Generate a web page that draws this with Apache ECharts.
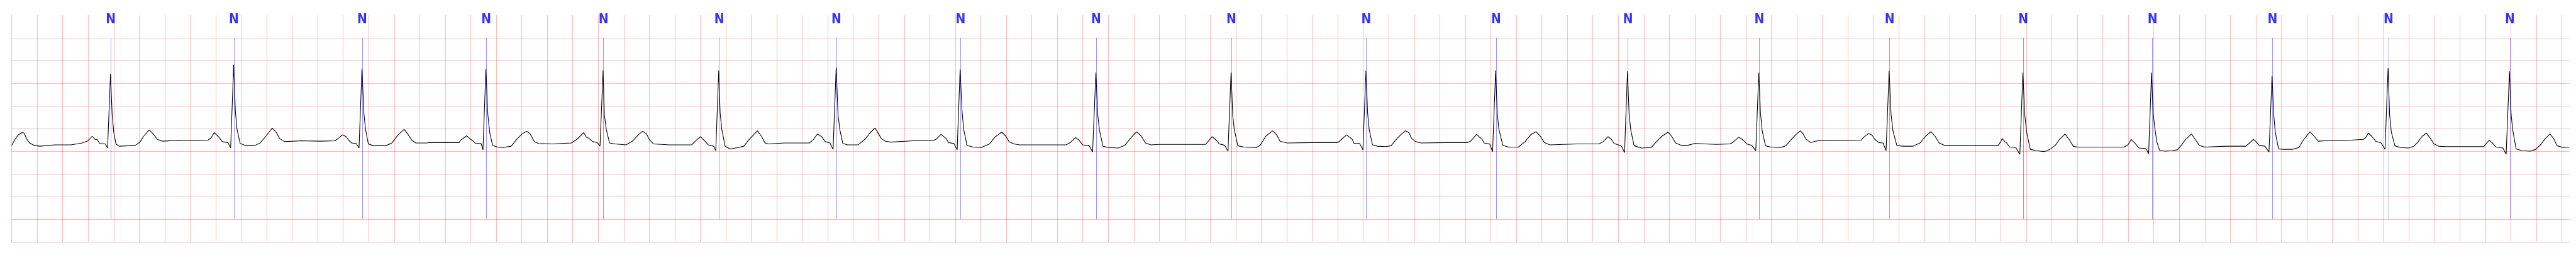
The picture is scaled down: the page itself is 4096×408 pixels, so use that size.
<!DOCTYPE html>
<html><head><meta charset="utf-8">
<script src="https://cdn.jsdelivr.net/npm/echarts@6/dist/echarts.min.js"></script>
<style>html,body{margin:0;padding:0;background:#fff}#c{width:4096px;height:408px}</style>
</head><body><div id="c"></div>
<script>
// ECG trace, [time (s), amplitude (mV)]
const ecgPart1 = [[0.000,0.13],[0.026,0.26],[0.048,0.35],[0.080,0.41],[0.097,0.40],[0.116,0.28],[0.140,0.18],[0.176,0.13],[0.219,0.11],[0.337,0.14],[0.466,0.14],[0.552,0.18],[0.599,0.23],[0.631,0.33],[0.653,0.26],[0.670,0.26],[0.689,0.17],[0.734,0.16],[0.752,0.07],[0.775,1.70],[0.788,0.80],[0.801,0.41],[0.818,0.16],[0.842,0.11],[0.917,0.12],[0.970,0.13],[1.003,0.19],[1.035,0.33],[1.078,0.47],[1.110,0.38],[1.142,0.26],[1.185,0.22],[1.303,0.24],[1.453,0.23],[1.539,0.24],[1.565,0.30],[1.588,0.41],[1.610,0.35],[1.625,0.31],[1.651,0.21],[1.696,0.19],[1.717,0.07],[1.741,1.90],[1.754,0.89],[1.767,0.48],[1.792,0.17],[1.829,0.13],[1.904,0.12],[1.947,0.18],[1.994,0.33],[2.043,0.51],[2.076,0.41],[2.101,0.28],[2.140,0.21],[2.269,0.23],[2.419,0.22],[2.537,0.23],[2.569,0.30],[2.595,0.36],[2.623,0.32],[2.644,0.24],[2.666,0.18],[2.702,0.17],[2.724,0.07],[2.747,1.81],[2.762,0.84],[2.775,0.48],[2.797,0.16],[2.837,0.12],[2.934,0.12],[2.981,0.18],[3.030,0.36],[3.078,0.48],[3.106,0.38],[3.138,0.24],[3.170,0.18],[3.256,0.18]];
const ecgPart2 = [[3.273,0.19],[3.380,0.19],[3.509,0.19],[3.520,0.24],[3.569,0.34],[3.595,0.27],[3.616,0.23],[3.638,0.17],[3.681,0.17],[3.696,0.03],[3.719,1.81],[3.734,0.81],[3.749,0.41],[3.771,0.13],[3.809,0.09],[3.852,0.08],[3.917,0.11],[3.960,0.26],[4.002,0.38],[4.039,0.44],[4.067,0.38],[4.099,0.21],[4.131,0.17],[4.239,0.16],[4.389,0.18],[4.432,0.26],[4.487,0.41],[4.507,0.31],[4.528,0.28],[4.556,0.21],[4.593,0.19],[4.614,0.11],[4.638,1.78],[4.648,0.81],[4.663,0.48],[4.689,0.18],[4.732,0.16],[4.818,0.14],[4.872,0.23],[4.914,0.36],[4.947,0.44],[4.979,0.38],[5.000,0.26],[5.033,0.16],[5.161,0.14],[5.333,0.14],[5.365,0.23],[5.402,0.32],[5.430,0.24],[5.462,0.14],[5.505,0.11],[5.522,0.01],[5.545,1.78],[5.556,0.84],[5.569,0.48],[5.595,0.11],[5.633,0.05],[5.698,0.08],[5.741,0.11],[5.784,0.26],[5.848,0.45],[5.880,0.33],[5.908,0.18],[5.934,0.16],[6.063,0.18],[6.256,0.18],[6.288,0.26],[6.320,0.38],[6.352,0.32],[6.380,0.21],[6.417,0.18],[6.442,0.04],[6.466,1.84],[6.481,0.79],[6.496,0.46],[6.518,0.17],[6.556,0.14],[6.638,0.14]];
const ecgPart3 = [[6.691,0.26],[6.734,0.41],[6.771,0.51],[6.799,0.38],[6.820,0.28],[6.852,0.22],[6.895,0.20],[7.067,0.23],[7.217,0.23],[7.249,0.26],[7.288,0.37],[7.314,0.31],[7.329,0.28],[7.346,0.19],[7.389,0.17],[7.415,0.03],[7.438,1.80],[7.453,0.89],[7.466,0.48],[7.492,0.13],[7.539,0.09],[7.603,0.08],[7.668,0.16],[7.711,0.31],[7.764,0.42],[7.797,0.33],[7.822,0.21],[7.861,0.16],[7.904,0.14],[8.097,0.14],[8.269,0.14],[8.301,0.19],[8.344,0.30],[8.372,0.24],[8.398,0.14],[8.451,0.12],[8.477,-0.02],[8.503,1.73],[8.518,0.79],[8.531,0.46],[8.558,0.11],[8.601,0.08],[8.677,0.07],[8.730,0.13],[8.773,0.28],[8.822,0.43],[8.859,0.33],[8.891,0.18],[8.934,0.14],[8.998,0.15],[9.191,0.15],[9.363,0.15],[9.385,0.22],[9.415,0.32],[9.449,0.24],[9.470,0.16],[9.513,0.13],[9.539,0.00],[9.563,1.73],[9.576,0.79],[9.588,0.48],[9.616,0.12],[9.664,0.09],[9.760,0.08],[9.792,0.13],[9.835,0.33],[9.889,0.45],[9.921,0.36],[9.947,0.22],[10.002,0.18]];
const ecgPart4 = [[10.196,0.19],[10.400,0.19],[10.421,0.24],[10.470,0.36],[10.492,0.31],[10.513,0.26],[10.528,0.17],[10.571,0.17],[10.597,0.03],[10.621,1.77],[10.634,0.84],[10.646,0.48],[10.672,0.14],[10.711,0.11],[10.775,0.10],[10.818,0.12],[10.850,0.23],[10.893,0.36],[10.930,0.45],[10.958,0.41],[10.979,0.28],[11.011,0.21],[11.054,0.18],[11.247,0.19],[11.419,0.19],[11.445,0.23],[11.488,0.37],[11.511,0.31],[11.530,0.27],[11.548,0.18],[11.591,0.16],[11.614,-0.01],[11.638,1.78],[11.651,0.81],[11.664,0.48],[11.694,0.13],[11.741,0.09],[11.816,0.09],[11.869,0.21],[11.912,0.36],[11.955,0.43],[11.988,0.33],[12.020,0.19],[12.063,0.14],[12.277,0.16],[12.449,0.16],[12.481,0.21],[12.520,0.32],[12.546,0.26],[12.567,0.17],[12.610,0.13],[12.625,0.11],[12.649,-0.03],[12.672,1.76],[12.685,0.81],[12.698,0.46],[12.724,0.12],[12.781,0.07],[12.857,0.08],[12.900,0.21],[12.942,0.33],[12.990,0.42],[13.018,0.33],[13.050,0.18],[13.093,0.13],[13.146,0.13],[13.200,0.17],[13.367,0.15]];
const ecgPart5 = [[13.475,0.16],[13.496,0.19],[13.545,0.31],[13.571,0.26],[13.593,0.21],[13.608,0.16],[13.646,0.13],[13.678,0.01],[13.702,1.73],[13.715,0.84],[13.728,0.46],[13.754,0.12],[13.796,0.09],[13.872,0.08],[13.914,0.12],[13.957,0.26],[13.990,0.36],[14.028,0.45],[14.050,0.38],[14.071,0.27],[14.108,0.19],[14.161,0.23],[14.333,0.23],[14.505,0.24],[14.526,0.31],[14.563,0.39],[14.591,0.35],[14.612,0.26],[14.644,0.19],[14.676,0.18],[14.700,0.01],[14.724,1.77],[14.739,0.81],[14.754,0.45],[14.784,0.13],[14.827,0.11],[14.912,0.11],[14.966,0.18],[15.009,0.33],[15.052,0.43],[15.084,0.33],[15.116,0.18],[15.159,0.13],[15.213,0.12],[15.406,0.12],[15.578,0.12],[15.599,0.21],[15.610,0.28],[15.631,0.21],[15.646,0.18],[15.668,0.09],[15.717,0.08],[15.749,-0.07],[15.773,1.73],[15.788,0.79],[15.803,0.41],[15.831,0.04],[15.878,0.01],[15.942,-0.01],[15.985,0.04],[16.028,0.13],[16.060,0.26],[16.103,0.38],[16.135,0.26],[16.168,0.11],[16.200,0.09],[16.243,0.09],[16.415,0.09],[16.565,0.09],[16.597,0.14],[16.623,0.26],[16.651,0.18],[16.683,0.07],[16.732,0.06]];
const ecgPart6 = [[16.744,0.03],[16.759,-0.06],[16.782,1.73],[16.795,0.81],[16.808,0.51],[16.823,0.21],[16.845,0.02],[16.888,0.00],[16.941,0.01],[16.984,0.03],[17.016,0.13],[17.049,0.26],[17.096,0.38],[17.124,0.26],[17.156,0.13],[17.199,0.09],[17.370,0.11],[17.521,0.11],[17.546,0.17],[17.581,0.26],[17.602,0.21],[17.624,0.13],[17.671,0.11],[17.703,-0.02],[17.727,1.66],[17.740,0.81],[17.752,0.43],[17.778,0.05],[17.821,0.04],[17.885,0.04],[17.939,0.08],[17.971,0.24],[18.025,0.43],[18.057,0.33],[18.089,0.22],[18.143,0.23],[18.272,0.23],[18.443,0.26],[18.465,0.31],[18.482,0.40],[18.508,0.33],[18.540,0.22],[18.583,0.18],[18.613,0.04],[18.637,1.83],[18.649,0.81],[18.662,0.43],[18.690,0.12],[18.733,0.08],[18.797,0.07],[18.840,0.11],[18.873,0.21],[18.905,0.33],[18.937,0.40],[18.969,0.28],[18.997,0.16],[19.033,0.11],[19.087,0.10],[19.237,0.10],[19.388,0.10],[19.398,0.14],[19.430,0.24],[19.456,0.18],[19.484,0.09],[19.538,0.07],[19.563,-0.07],[19.589,1.76],[19.602,0.81],[19.615,0.46],[19.641,0.05],[19.688,0.01],[19.752,0.00],[19.795,0.04],[19.838,0.16],[19.870,0.28],[19.907,0.38],[19.935,0.28],[19.962,0.12],[20.010,0.08],[20.059,0.09]];

// beat annotations
const annotationTimes = [0.777,1.743,2.749,3.722,4.641,5.549,6.468,7.442,8.505,9.565,10.623,11.642,12.676,13.706,14.728,15.776,16.790,17.731,18.641,19.593];
const annotationLabels = ['N','N','N','N','N','N','N','N','N','N','N','N','N','N','N','N','N','N','N','N'];

// axes
const xRange = [0, 20.06];   // seconds
const xGridStep = 0.2;
const yRange = [-2, 3];      // mV
const yGridStep = 0.5;
const markerSpan = [-1.5, 2.5];
const labelLevel = 2.89;

const trace = [].concat(ecgPart1, ecgPart2, ecgPart3, ecgPart4, ecgPart5, ecgPart6);

const gridLine = { show: true, showMinLine: true, showMaxLine: false, lineStyle: { color: 'rgba(255,0,0,0.26)', width: 1.1 } };
const chart = echarts.init(document.getElementById('c'), null, { renderer: 'canvas' });
chart.setOption({
  animation: false,
  backgroundColor: '#ffffff',
  grid: { left: 18.6, right: 10.3, top: 23.9, bottom: 23.9, containLabel: false },
  xAxis: { type: 'value', min: xRange[0], max: xRange[1], interval: xGridStep,
    axisLine: { show: false }, axisTick: { show: false }, axisLabel: { show: false }, splitLine: gridLine },
  yAxis: { type: 'value', min: yRange[0], max: yRange[1], interval: yGridStep,
    axisLine: { show: false }, axisTick: { show: false }, axisLabel: { show: false }, splitLine: gridLine },
  series: [
    {
      type: 'scatter', z: 1, silent: true,
      data: annotationTimes.map(t => [t, labelLevel]),
      symbolSize: 1, itemStyle: { color: 'rgba(0,0,0,0)' },
      label: { show: true, position: 'inside', formatter: p => annotationLabels[p.dataIndex],
        color: '#0000ff', fontWeight: 'bold', fontSize: 21,
        fontFamily: "'Liberation Sans Narrow', 'DejaVu Sans Condensed', 'Liberation Sans', sans-serif" },
      markLine: {
        silent: true, symbol: ['none', 'none'], label: { show: false },
        lineStyle: { color: 'rgba(0,0,255,0.5)', width: 0.8, type: 'solid' },
        data: annotationTimes.map(t => [{ coord: [t, markerSpan[0]] }, { coord: [t, markerSpan[1]] }])
      }
    },
    {
      type: 'line', z: 3, silent: true, data: trace, showSymbol: false, symbol: 'none',
      lineStyle: { color: '#000000', width: 1.1 }
    }
  ]
});
</script></body></html>
